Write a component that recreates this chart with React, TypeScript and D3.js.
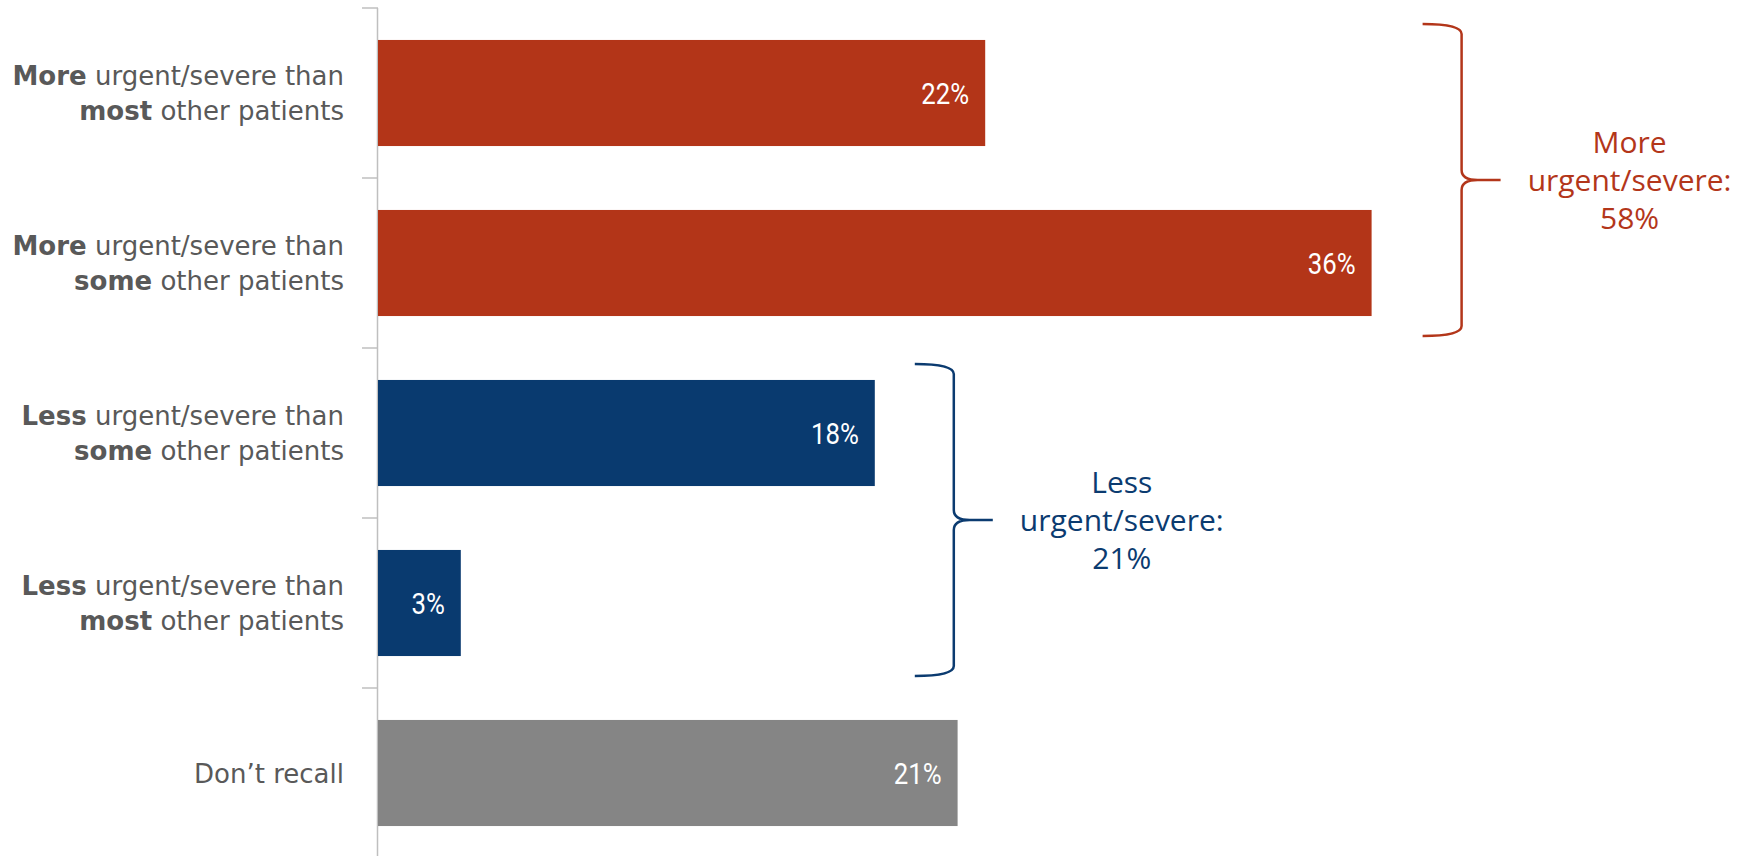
import React from "react";
import * as d3 from "d3";

const categories = [
  "more-most",
  "more-some",
  "less-some",
  "less-most",
  "dont-recall",
];
// label lines: each line is a list of [text, bold]
const labelLines: [string, boolean][][][] = [
  [[["More", true], [" urgent/severe than", false]], [["most", true], [" other patients", false]]],
  [[["More", true], [" urgent/severe than", false]], [["some", true], [" other patients", false]]],
  [[["Less", true], [" urgent/severe than", false]], [["some", true], [" other patients", false]]],
  [[["Less", true], [" urgent/severe than", false]], [["most", true], [" other patients", false]]],
  [[["Don\u2019t recall", false]]],
];
const values = [0.22, 0.36, 0.18, 0.03, 0.21];
const barColors = ["#B33518", "#B33518", "#093A6F", "#093A6F", "#858585"];

const groupLabels = [
  ["More", "urgent/severe:", "58%"],
  ["Less", "urgent/severe:", "21%"],
];
const groupRanges: [number, number][] = [
  [0, 1],
  [2, 3],
];
const groupColors = ["#B3361A", "#0B3B70"];

const W = 1748;
const H = 856;

export default function App() {
  const axisX = 378;
  const x = d3.scaleLinear().domain([0, 0.4]).range([axisX, axisX + 1104]);
  const y = d3
    .scaleBand<string>()
    .domain(categories)
    .range([8, 858])
    .paddingInner(0.376)
    .paddingOuter(0.188);
  const step = y.step();
  const bw = y.bandwidth();
  const fmt = d3.format(".0%");

  const bracketPath = (x0: number, top: number, bot: number) => {
    const vx = x0 + 39;
    const tip = vx + 39;
    const mid = (top + bot) / 2;
    const r = 10;
    return [
      `M${x0},${top}`,
      `Q${vx},${top} ${vx},${top + r}`,
      `L${vx},${mid - r}`,
      `Q${vx},${mid} ${vx + r * 1.6},${mid}`,
      `L${tip},${mid}`,
      `M${vx + r * 1.6},${mid}`,
      `Q${vx},${mid} ${vx},${mid + r}`,
      `L${vx},${bot - r}`,
      `Q${vx},${bot} ${x0},${bot}`,
    ].join(" ");
  };

  return (
    <svg
      width={W}
      height={H}
      style={{ position: "absolute", left: 0, top: 0, background: "#fff" }}
    >
      {/* axis */}
      <line x1={axisX - 0.5} x2={axisX - 0.5} y1={8} y2={H} stroke="#BFBFBF" strokeWidth={1.5} />
      {d3.range(categories.length + 1).map((i) => (
        <line
          key={"t" + i}
          x1={axisX - 16}
          x2={axisX}
          y1={8 + i * step}
          y2={8 + i * step}
          stroke="#BFBFBF"
          strokeWidth={1.5}
        />
      ))}
      {/* bars */}
      {categories.map((c, i) => (
        <rect
          key={c}
          x={x(0)}
          y={y(c)!}
          width={x(values[i]) - x(0)}
          height={bw}
          fill={barColors[i]}
        />
      ))}
      {/* value labels */}
      {categories.map((c, i) => (
        <text
          key={"v" + c}
          transform={`translate(${x(values[i]) - 16},${y(c)! + bw / 2 + 10.5}) scale(0.86,1)`}
          textAnchor="end"
          fill="#fff"
          style={{ fontFamily: "'Roboto', sans-serif", fontSize: 30 }}
        >
          {fmt(values[i])}
        </text>
      ))}
      {/* category labels */}
      {categories.map((c, i) => {
        const lines = labelLines[i];
        const cy = y(c)! + bw / 2;
        const baselines =
          lines.length === 1 ? [cy + 10] : [cy - 8, cy + 27];
        return lines.map((ln, j) => (
          <text
            key={"l" + c + j}
            x={344}
            y={baselines[j]}
            textAnchor="end"
            fill="#595959"
            style={{ fontFamily: "'DejaVu Sans', sans-serif", fontSize: 26 }}
          >
            {ln.map(([t, b], k) => (
              <tspan key={k} fontWeight={b ? "bold" : "normal"} style={{ whiteSpace: "pre" }}>
                {t}
              </tspan>
            ))}
          </text>
        ));
      })}
      {/* brackets */}
      {groupRanges.map(([a, b], gi) => {
        const maxV = d3.max(values.slice(a, b + 1))!;
        const x0 = x(maxV) + (gi === 0 ? 51 : 40);
        const top = y(categories[a])! - 16;
        const bot = y(categories[b])! + bw + 20;
        const mid = (top + bot) / 2;
        const tx = x0 + 207;
        return (
          <g key={"g" + gi}>
            <path
              d={bracketPath(x0, top, bot)}
              fill="none"
              stroke={groupColors[gi]}
              strokeWidth={2.5}
            />
            {groupLabels[gi].map((t, k) => (
              <text
                key={k}
                x={tx}
                y={mid + 11 + (k - 1) * 38}
                textAnchor="middle"
                fill={groupColors[gi]}
                style={{ fontFamily: "'Open Sans', sans-serif", fontSize: 30 }}
              >
                {t}
              </text>
            ))}
          </g>
        );
      })}
    </svg>
  );
}
